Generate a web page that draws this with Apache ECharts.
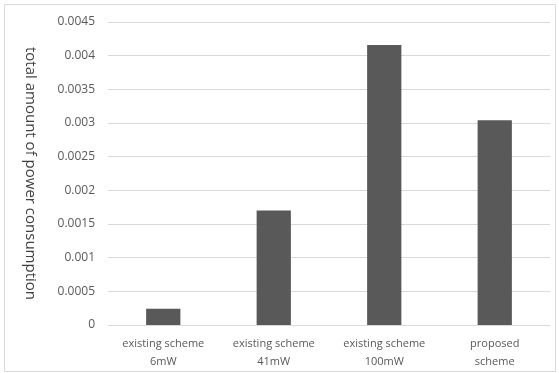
<!DOCTYPE html>
<html>
<head>
<meta charset="utf-8">
<script src="https://cdn.jsdelivr.net/npm/echarts@6/dist/echarts.min.js"></script>
<style>
  html, body { margin: 0; padding: 0; background: #ffffff; }
  #chart { width: 559px; height: 373px; }
</style>
</head>
<body>
<div id="chart"></div>
<script>
// Scheme names shown under each bar (two lines each)
const categories = [
  'existing scheme\n6mW',
  'existing scheme\n41mW',
  'existing scheme\n100mW',
  'proposed\nscheme'
];
// Total power consumption per scheme
const consumption = [0.00024, 0.0017, 0.00416, 0.00304];
// Value-axis tick labels
const yTicks = ['0', '0.0005', '0.001', '0.0015', '0.002', '0.0025', '0.003', '0.0035', '0.004', '0.0045'];

const textColor = '#595959';
const fontFam = '"Open Sans", "Liberation Sans", sans-serif';

const chart = echarts.init(document.getElementById('chart'), null, { renderer: 'canvas' });
chart.setOption({
  animation: false,
  backgroundColor: '#ffffff',
  graphic: [{
    type: 'rect',
    shape: { x: 4.5, y: 4.5, width: 551, height: 367 },
    style: { fill: 'none', stroke: '#d9d9d9', lineWidth: 1 },
    silent: true
  }],
  grid: { left: 108, right: 9, top: 22, bottom: 48 },
  xAxis: {
    type: 'category',
    data: categories,
    axisLine: { show: true, lineStyle: { color: '#d9d9d9' } },
    axisTick: { show: false },
    axisLabel: {
      color: textColor, fontFamily: fontFam, fontSize: 11,
      lineHeight: 18, margin: 10, interval: 0
    }
  },
  yAxis: {
    type: 'value',
    min: 0, max: 0.0045, interval: 0.0005,
    name: 'total amount of power consumption',
    nameLocation: 'middle',
    nameGap: 70,
    nameRotate: -90,
    nameTextStyle: { color: '#404040', fontFamily: fontFam, fontSize: 15 },
    axisLine: { show: false },
    axisTick: { show: false },
    splitLine: { lineStyle: { color: '#d9d9d9', width: 1 } },
    axisLabel: {
      color: textColor, fontFamily: fontFam, fontSize: 12, margin: 13,
      formatter: (v) => yTicks[Math.round(v / 0.0005)]
    }
  },
  series: [{
    type: 'bar',
    data: consumption,
    barWidth: '31%',
    itemStyle: { color: '#595959' }
  }]
});
</script>
</body>
</html>
